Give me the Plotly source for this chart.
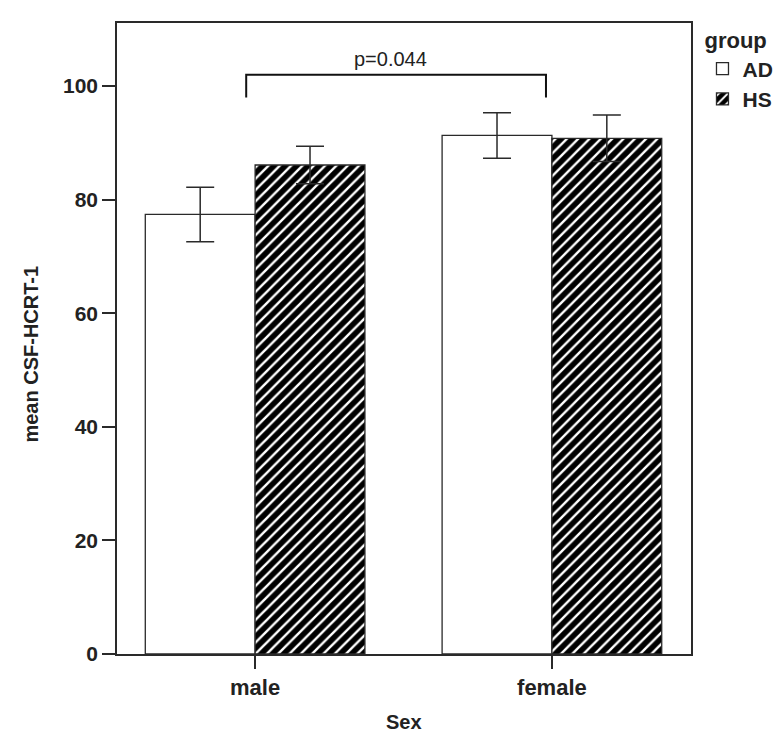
import plotly.graph_objects as go

categories = ["male", "female"]
groups = ["AD", "HS"]
ad_means = [77.4, 91.3]
ad_err = [4.8, 4.0]
hs_means = [86.1, 90.8]
hs_err = [3.3, 4.1]
y_ticks = [0, 20, 40, 60, 80, 100]
p_label = "p=0.044"
bracket_y = 102.0
bracket_drop = 98.0
bracket_x = [-0.03, 0.98]

FONT = "Liberation Sans, Arial, sans-serif"
LINE = "#2a2a2a"

fig = go.Figure()
fig.add_trace(go.Bar(
    name=groups[0], x=categories, y=ad_means,
    marker=dict(color="white", line=dict(color=LINE, width=1.3)),
    error_y=dict(type="data", array=ad_err, color=LINE, thickness=1.5, width=14),
))
fig.add_trace(go.Bar(
    name=groups[1], x=categories, y=hs_means,
    marker=dict(color="#000000", line=dict(color=LINE, width=1.3),
                pattern=dict(shape="/", fgcolor="white", bgcolor="#000000",
                             fgopacity=1, size=8, solidity=0.3, fillmode="overlay")),
    error_y=dict(type="data", array=hs_err, color=LINE, thickness=1.5, width=14),
))

# significance bracket between the two sex groups
x0, x1 = bracket_x
fig.add_shape(type="path", xref="x", yref="y",
              path=f"M {x0},{bracket_drop} L {x0},{bracket_y} L {x1},{bracket_y} L {x1},{bracket_drop}",
              line=dict(color="#111111", width=2))
fig.add_annotation(x=(x0 + x1) / 2 - 0.02, y=bracket_y, xref="x", yref="y", text=p_label,
                   showarrow=False, yanchor="bottom", yshift=3,
                   font=dict(family=FONT, size=20, color="#222"))

# axis titles
fig.add_annotation(x=-0.15, y=0.476, xref="paper", yref="paper",
                   text="<b>mean CSF-HCRT-1</b>", textangle=-90, showarrow=False,
                   xanchor="center", yanchor="middle",
                   font=dict(family=FONT, size=20, color="#222"))
fig.add_annotation(x=0.5, y=-0.107, xref="paper", yref="paper",
                   text="<b>Sex</b>", showarrow=False,
                   xanchor="center", yanchor="middle",
                   font=dict(family=FONT, size=20, color="#222"))

fig.update_layout(
    width=782, height=735,
    margin=dict(l=109, r=87, t=14, b=89),
    paper_bgcolor="white", plot_bgcolor="white",
    barmode="group", bargap=0.26, bargroupgap=0,
    font=dict(family=FONT, color="#222"),
    legend=dict(
        title=dict(text="<b>group</b>", font=dict(family=FONT, size=22, color="#222")),
        x=1.02, xanchor="left", y=1.005, yanchor="top",
        font=dict(family=FONT, size=21, color="#222", weight="bold"),
        bgcolor="rgba(0,0,0,0)", tracegroupgap=0,
    ),
    showlegend=True,
)
fig.update_xaxes(
    range=[-0.4653, 1.4686], showline=True, mirror=True, linecolor=LINE, linewidth=1.5,
    ticks="outside", ticklen=13, tickcolor=LINE, tickwidth=1.5,
    tickfont=dict(family=FONT, size=22, color="#222"),
    tickvals=categories, ticktext=[f"<b>{c}</b>" for c in categories],
    showgrid=False, zeroline=False,
)
fig.update_yaxes(
    range=[0, 111.1], showline=True, mirror=True, linecolor=LINE, linewidth=1.5,
    ticks="outside", ticklen=13, tickcolor=LINE, tickwidth=1.5,
    tickvals=y_ticks, ticktext=[f"<b>{v}</b>" for v in y_ticks],
    tickfont=dict(family=FONT, size=21, color="#222"),
    showgrid=False, zeroline=False,
)

fig.write_html("out.html")
